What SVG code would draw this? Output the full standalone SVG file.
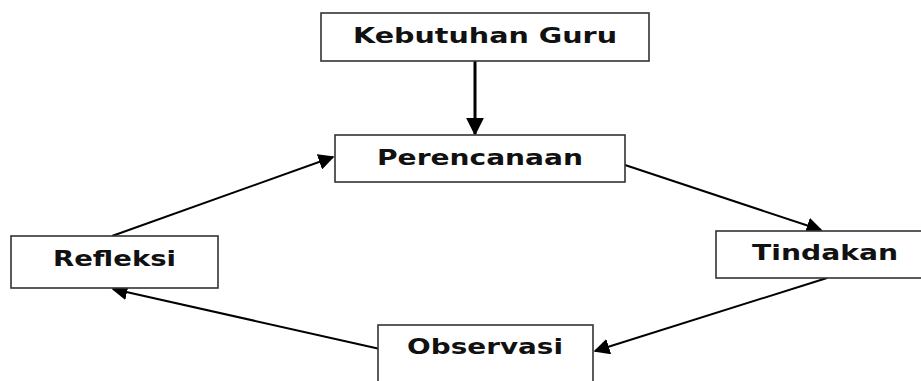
<svg xmlns="http://www.w3.org/2000/svg" width="921" height="381" viewBox="0 0 921 381">
<style>
.box{fill:#fff;stroke:#333;stroke-width:1.6}
.lbl{font-family:"DejaVu Sans",Verdana,sans-serif;font-weight:bold;font-size:21px;fill:#111}
.con{stroke:#000;stroke-width:2;fill:none}
</style>
<defs>
<marker id="arr" viewBox="0 0 10 10" refX="9" refY="5" markerWidth="16" markerHeight="16" orient="auto" markerUnits="userSpaceOnUse">
<path d="M0,0 L10,5 L0,10 z" fill="#000"/>
</marker>
<marker id="arrV" viewBox="0 0 10 10" refX="9" refY="5" markerWidth="18" markerHeight="20" orient="auto" markerUnits="userSpaceOnUse">
<path d="M0,0 L10,5 L0,10 z" fill="#000"/>
</marker>
</defs>
<g id="connectors">
<line class="con" x1="475" y1="61" x2="475" y2="134" style="stroke-width:3" marker-end="url(#arrV)"/>
<line class="con" x1="625" y1="165" x2="821" y2="230" marker-end="url(#arr)"/>
<line class="con" x1="827" y1="278" x2="595" y2="351" marker-end="url(#arr)"/>
<line class="con" x1="380" y1="349" x2="113" y2="289" marker-end="url(#arr)"/>
<line class="con" x1="112" y1="236" x2="333" y2="157" marker-end="url(#arr)"/>
</g>
<g id="kebutuhan">
<rect class="box" x="321" y="13" width="328" height="48"/>
<text class="lbl" x="353" y="43" textLength="264" lengthAdjust="spacingAndGlyphs">Kebutuhan Guru</text>
</g>
<g id="perencanaan">
<rect class="box" x="335" y="135" width="290" height="47"/>
<text class="lbl" x="377" y="165" textLength="206" lengthAdjust="spacingAndGlyphs">Perencanaan</text>
</g>
<g id="tindakan">
<rect class="box" x="716" y="231" width="210" height="47"/>
<text class="lbl" x="752" y="260" textLength="146" lengthAdjust="spacingAndGlyphs">Tindakan</text>
</g>
<g id="observasi">
<rect class="box" x="378" y="325" width="215" height="70"/>
<text class="lbl" x="407" y="354" textLength="156" lengthAdjust="spacingAndGlyphs">Observasi</text>
</g>
<g id="refleksi">
<rect class="box" x="11" y="236" width="207" height="52"/>
<text class="lbl" x="53" y="266" textLength="123" lengthAdjust="spacingAndGlyphs">Refleksi</text>
</g>
</svg>
